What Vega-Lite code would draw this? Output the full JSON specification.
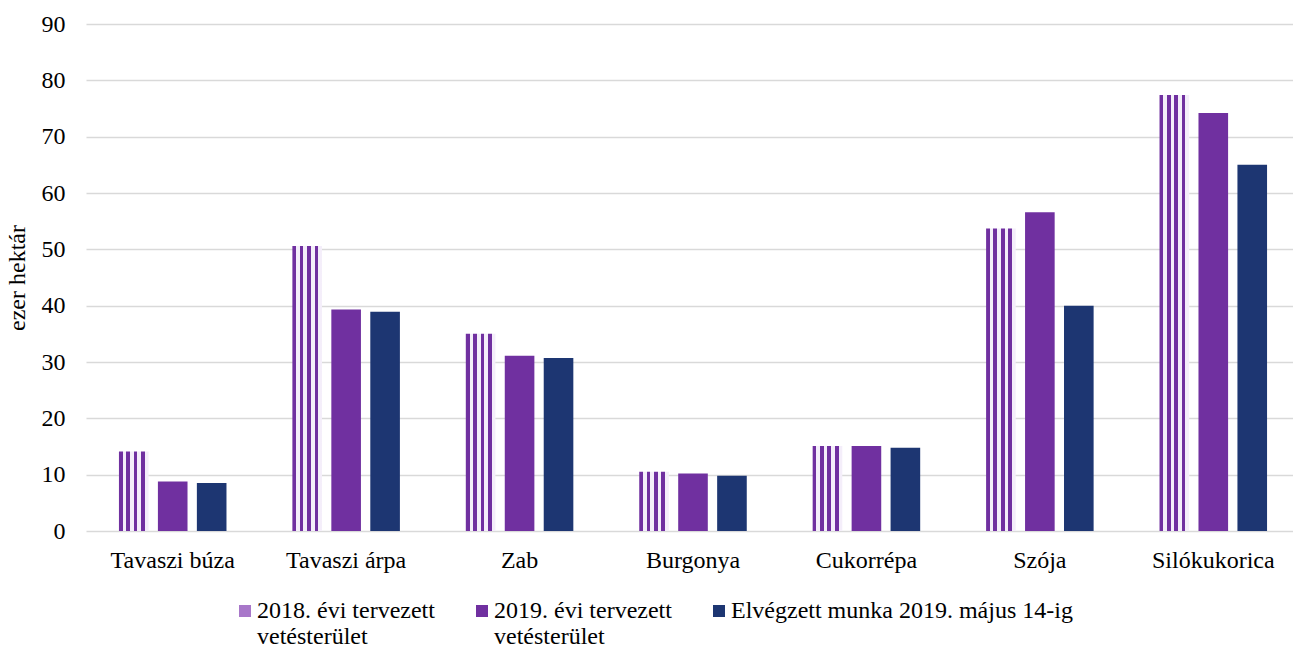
{
  "$schema": "https://vega.github.io/schema/vega-lite/v6.json",
  "width": 1207,
  "height": 507,
  "autosize": {"type": "none"},
  "padding": {"left": 86, "top": 24, "right": 0, "bottom": 118},
  "background": "white",
  "config": {
    "view": {"stroke": null},
    "font": "Liberation Serif",
    "axis": {"labelFont": "Liberation Serif", "titleFont": "Liberation Serif", "labelColor": "#000000", "titleColor": "#000000"},
    "legend": {"labelFont": "Liberation Serif", "labelColor": "#000000"}
  },
  "data": {
    "values": [
      {"kultura": "Tavaszi búza", "sorozat": "2018. évi tervezett vetésterület", "ertek": 14.1},
      {"kultura": "Tavaszi búza", "sorozat": "2019. évi tervezett vetésterület", "ertek": 8.8},
      {"kultura": "Tavaszi búza", "sorozat": "Elvégzett munka 2019. május 14-ig", "ertek": 8.5},
      {"kultura": "Tavaszi árpa", "sorozat": "2018. évi tervezett vetésterület", "ertek": 50.6},
      {"kultura": "Tavaszi árpa", "sorozat": "2019. évi tervezett vetésterület", "ertek": 39.3},
      {"kultura": "Tavaszi árpa", "sorozat": "Elvégzett munka 2019. május 14-ig", "ertek": 38.9},
      {"kultura": "Zab", "sorozat": "2018. évi tervezett vetésterület", "ertek": 35.0},
      {"kultura": "Zab", "sorozat": "2019. évi tervezett vetésterület", "ertek": 31.1},
      {"kultura": "Zab", "sorozat": "Elvégzett munka 2019. május 14-ig", "ertek": 30.7},
      {"kultura": "Burgonya", "sorozat": "2018. évi tervezett vetésterület", "ertek": 10.5},
      {"kultura": "Burgonya", "sorozat": "2019. évi tervezett vetésterület", "ertek": 10.2},
      {"kultura": "Burgonya", "sorozat": "Elvégzett munka 2019. május 14-ig", "ertek": 9.8},
      {"kultura": "Cukorrépa", "sorozat": "2018. évi tervezett vetésterület", "ertek": 15.1},
      {"kultura": "Cukorrépa", "sorozat": "2019. évi tervezett vetésterület", "ertek": 15.1},
      {"kultura": "Cukorrépa", "sorozat": "Elvégzett munka 2019. május 14-ig", "ertek": 14.8},
      {"kultura": "Szója", "sorozat": "2018. évi tervezett vetésterület", "ertek": 53.7},
      {"kultura": "Szója", "sorozat": "2019. évi tervezett vetésterület", "ertek": 56.6},
      {"kultura": "Szója", "sorozat": "Elvégzett munka 2019. május 14-ig", "ertek": 40.0},
      {"kultura": "Silókukorica", "sorozat": "2018. évi tervezett vetésterület", "ertek": 77.4},
      {"kultura": "Silókukorica", "sorozat": "2019. évi tervezett vetésterület", "ertek": 74.2},
      {"kultura": "Silókukorica", "sorozat": "Elvégzett munka 2019. május 14-ig", "ertek": 65.0}
    ]
  },
  "mark": {"type": "bar"},
  "encoding": {
    "x": {
      "field": "kultura",
      "type": "nominal",
      "sort": null,
      "scale": {"range": [0, 1214], "paddingInner": 0.38, "paddingOuter": 0.19},
      "axis": {
        "title": null,
        "labelAngle": 0,
        "labelFont": "Liberation Serif",
        "labelFontSize": 24,
        "labelPadding": 17,
        "ticks": false,
        "domain": false
      }
    },
    "xOffset": {
      "field": "sorozat",
      "type": "nominal",
      "sort": null,
      "scale": {"paddingInner": 0.24, "paddingOuter": 0}
    },
    "y": {
      "field": "ertek",
      "type": "quantitative",
      "scale": {"domain": [0, 90], "nice": false},
      "axis": {
        "title": "ezer hektár",
        "titleFont": "Liberation Serif",
        "titleFontSize": 24,
        "titleFontWeight": "normal",
        "titlePadding": 12,
        "labelFont": "Liberation Serif",
        "labelFontSize": 24,
        "labelPadding": 21,
        "ticks": false,
        "domain": false,
        "values": [0, 10, 20, 30, 40, 50, 60, 70, 80, 90],
        "gridColor": "#d9d9d9",
        "gridWidth": 1.5
      }
    },
    "color": {
      "condition": {
        "test": "datum.sorozat === '2018. évi tervezett vetésterület'",
        "value": {"gradient": "linear", "x1": 0, "y1": 0, "x2": 1, "y2": 0, "stops": [
          {"offset": 0, "color": "#7030a0"}, {"offset": 0.125, "color": "#7030a0"},
          {"offset": 0.125, "color": "#f4eefa"}, {"offset": 0.25, "color": "#f4eefa"},
          {"offset": 0.25, "color": "#7030a0"}, {"offset": 0.375, "color": "#7030a0"},
          {"offset": 0.375, "color": "#f4eefa"}, {"offset": 0.5, "color": "#f4eefa"},
          {"offset": 0.5, "color": "#7030a0"}, {"offset": 0.625, "color": "#7030a0"},
          {"offset": 0.625, "color": "#f4eefa"}, {"offset": 0.75, "color": "#f4eefa"},
          {"offset": 0.75, "color": "#7030a0"}, {"offset": 0.875, "color": "#7030a0"},
          {"offset": 0.875, "color": "#f4eefa"}, {"offset": 1, "color": "#f4eefa"}
        ]}
      },
      "field": "sorozat",
      "type": "nominal",
      "sort": null,
      "scale": {
        "domain": ["2018. évi tervezett vetésterület", "2019. évi tervezett vetésterület", "Elvégzett munka 2019. május 14-ig"],
        "range": ["#a877c9", "#7030a0", "#1d3672"]
      },
      "legend": {
        "title": null,
        "orient": "none",
        "legendX": 147,
        "legendY": 575,
        "direction": "horizontal",
        "symbolType": "square",
        "symbolSize": 144,
        "symbolStrokeWidth": 0,
        "labelFont": "Liberation Serif",
        "labelFontSize": 24,
        "labelOffset": 0,
        "labelLimit": 600,
        "columnPadding": 35,
        "labelExpr": "indexof(datum.label, ' vetésterület') > 0 ? [replace(datum.label, ' vetésterület', ''), 'vetésterület'] : [datum.label, ' ']"
      }
    }
  }
}
